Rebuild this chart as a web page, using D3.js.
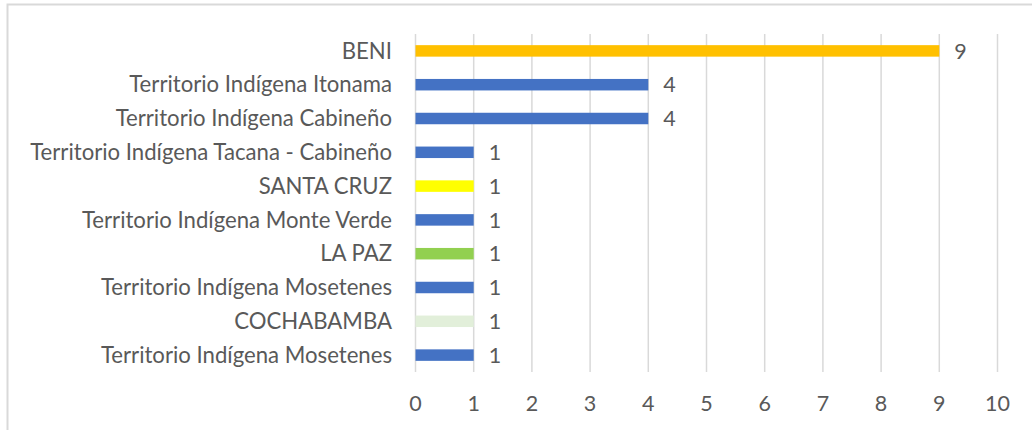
<!DOCTYPE html>
<html><head><meta charset="utf-8">
<script src="https://cdn.jsdelivr.net/npm/d3@7"></script>
<style>body{margin:0;background:#fff}svg{display:block}text{font-family:Lato,"Open Sans",sans-serif;fill:#595959}</style>
</head><body><svg id="c" width="1032" height="430"></svg>
<script>
const categories = ["BENI","Territorio Indígena Itonama","Territorio Indígena Cabineño","Territorio Indígena Tacana - Cabineño","SANTA CRUZ","Territorio Indígena Monte Verde","LA PAZ","Territorio Indígena Mosetenes","COCHABAMBA","Territorio Indígena Mosetenes "];
const values = [9,4,4,1,1,1,1,1,1,1];
const colors = ["#FFC000","#4472C4","#4472C4","#4472C4","#FFFF00","#4472C4","#92D050","#4472C4","#E2EFDA","#4472C4"];
const ticks = [0,1,2,3,4,5,6,7,8,9,10];

const svg = d3.select("#c");
svg.append("rect").attr("x",7.5).attr("y",4.5).attr("width",1100).attr("height",500)
  .attr("fill","none").attr("stroke","#D9D9D9").attr("stroke-width",2);

const x = d3.scaleLinear().domain([0,10]).range([415.5,997.5]);
const y = d3.scaleBand().domain(categories).range([34,372]).paddingInner(0.66).paddingOuter(0.33);

// font fit
const probe = svg.append("text").attr("font-size",100).text(categories[3]);
const w100 = probe.node().getComputedTextLength(); probe.remove();
const fs = 100*362/w100;
const fsNum = 21.5;

svg.append("g").selectAll("line").data(ticks).join("line")
  .attr("x1",d=>x(d)).attr("x2",d=>x(d)).attr("y1",34).attr("y2",372)
  .attr("stroke","#D9D9D9").attr("stroke-width",1.5);

svg.append("g").selectAll("rect").data(values).join("rect")
  .attr("x",x(0)).attr("y",(d,i)=>y(categories[i]))
  .attr("width",d=>x(d)-x(0)).attr("height",y.bandwidth())
  .attr("fill",(d,i)=>colors[i]);

svg.append("g").selectAll("text").data(categories).join("text")
  .attr("x",392).attr("y",d=>y(d)+y.bandwidth()/2).attr("dy","0.35em")
  .attr("text-anchor","end").attr("font-size",fs).text(d=>d.trim());

svg.append("g").selectAll("text").data(values).join("text")
  .attr("x",d=>x(d)+15).attr("y",(d,i)=>y(categories[i])+y.bandwidth()/2).attr("dy","0.36em")
  .attr("font-size",fsNum).text(d=>d);

svg.append("g").selectAll("text").data(ticks).join("text")
  .attr("x",d=>x(d)).attr("y",403).attr("dy","0.36em").attr("text-anchor","middle")
  .attr("font-size",fsNum).text(d=>d);
</script></body></html>
